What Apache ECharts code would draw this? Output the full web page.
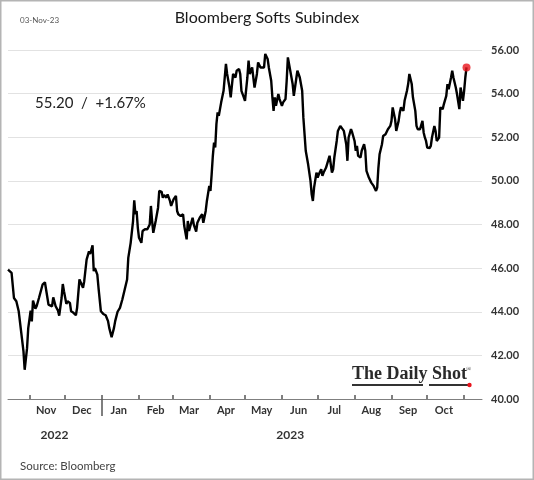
<!DOCTYPE html>
<html><head><meta charset="utf-8">
<script src="https://cdn.jsdelivr.net/npm/echarts@6/dist/echarts.min.js"></script>
<style>html,body{margin:0;padding:0;background:#fff}#c{width:534px;height:480px;background:#fff}</style>
</head><body><div id="c"></div>
<script>
const axisStart = '2022-10-14';
const axisEnd = '2023-11-16';
const monthNames = ['Jan','Feb','Mar','Apr','May','Jun','Jul','Aug','Sep','Oct','Nov','Dec'];
const yearLabelDates = {'2022-11-22':'2022','2023-06-08':'2023'};
const yearSeparator = '2023-01-01';
const yTicks = [40,42,44,46,48,50,52,54,56];
const titleText = 'Bloomberg Softs Subindex';
const dateText = '03-Nov-23';
const lastText = '55.20  /  +1.67%';
const sourceText = 'Source: Bloomberg';

const dates = [
'2022-10-14','2022-10-17','2022-10-19','2022-10-20','2022-10-21','2022-10-23','2022-10-25','2022-10-27','2022-10-28','2022-10-30','2022-10-31',
'2022-11-02','2022-11-03','2022-11-04','2022-11-06','2022-11-07','2022-11-09','2022-11-12','2022-11-14','2022-11-15','2022-11-17','2022-11-18','2022-11-20','2022-11-21','2022-11-23','2022-11-25','2022-11-26','2022-11-28','2022-11-29','2022-11-30',
'2022-12-02','2022-12-03','2022-12-05','2022-12-06','2022-12-08','2022-12-10','2022-12-11','2022-12-13','2022-12-14','2022-12-16','2022-12-17','2022-12-19','2022-12-21','2022-12-22','2022-12-24','2022-12-25','2022-12-26','2022-12-28','2022-12-29','2022-12-31',
'2023-01-02','2023-01-03','2023-01-04','2023-01-06','2023-01-07','2023-01-09','2023-01-11','2023-01-12','2023-01-14','2023-01-16','2023-01-17','2023-01-18','2023-01-20','2023-01-22','2023-01-23','2023-01-25','2023-01-26','2023-01-27','2023-01-28','2023-01-29','2023-01-30','2023-01-31',
'2023-02-01','2023-02-03','2023-02-04','2023-02-06','2023-02-08','2023-02-09','2023-02-10','2023-02-11','2023-02-12','2023-02-13','2023-02-15','2023-02-17','2023-02-18','2023-02-20','2023-02-21','2023-02-22','2023-02-24','2023-02-25','2023-02-27','2023-02-28',
'2023-03-02','2023-03-04','2023-03-05','2023-03-06','2023-03-08','2023-03-10','2023-03-11','2023-03-13','2023-03-14','2023-03-15','2023-03-16','2023-03-18','2023-03-19','2023-03-21','2023-03-22','2023-03-24','2023-03-26','2023-03-27','2023-03-29','2023-03-30',
'2023-04-01','2023-04-02','2023-04-03','2023-04-04','2023-04-05','2023-04-06','2023-04-07','2023-04-08','2023-04-09','2023-04-11','2023-04-12','2023-04-13','2023-04-15','2023-04-16','2023-04-18','2023-04-19','2023-04-21','2023-04-23','2023-04-24','2023-04-26','2023-04-27','2023-04-28','2023-04-30',
'2023-05-01','2023-05-03','2023-05-04','2023-05-05','2023-05-07','2023-05-08','2023-05-09','2023-05-11','2023-05-12','2023-05-14','2023-05-15','2023-05-17','2023-05-18','2023-05-20','2023-05-21','2023-05-23','2023-05-24','2023-05-25','2023-05-26','2023-05-27','2023-05-28','2023-05-29','2023-05-30',
'2023-06-01','2023-06-02','2023-06-04','2023-06-05','2023-06-06','2023-06-08','2023-06-10','2023-06-11','2023-06-13','2023-06-14','2023-06-15','2023-06-16','2023-06-18','2023-06-19','2023-06-21','2023-06-23','2023-06-25','2023-06-26','2023-06-27','2023-06-28','2023-06-30',
'2023-07-01','2023-07-02','2023-07-04','2023-07-05','2023-07-06','2023-07-08','2023-07-09','2023-07-11','2023-07-12','2023-07-13','2023-07-14','2023-07-15','2023-07-17','2023-07-18','2023-07-20','2023-07-21','2023-07-23','2023-07-25','2023-07-26','2023-07-27','2023-07-29','2023-07-30',
'2023-08-01','2023-08-02','2023-08-03','2023-08-04','2023-08-06','2023-08-07','2023-08-09','2023-08-10','2023-08-11','2023-08-13','2023-08-14','2023-08-15','2023-08-17','2023-08-19','2023-08-20','2023-08-21','2023-08-22','2023-08-24','2023-08-25','2023-08-27','2023-08-28','2023-08-29','2023-08-31',
'2023-09-01','2023-09-02','2023-09-04','2023-09-05','2023-09-07','2023-09-08','2023-09-09','2023-09-11','2023-09-12','2023-09-14','2023-09-15','2023-09-16','2023-09-18','2023-09-19','2023-09-21','2023-09-22','2023-09-23','2023-09-25','2023-09-26','2023-09-27','2023-09-28','2023-09-29','2023-09-30',
'2023-10-01','2023-10-03','2023-10-04','2023-10-05','2023-10-07','2023-10-08','2023-10-09','2023-10-11','2023-10-12','2023-10-14','2023-10-15','2023-10-17','2023-10-18','2023-10-19','2023-10-21','2023-10-22','2023-10-23','2023-10-25','2023-10-26','2023-10-27','2023-10-28','2023-10-29','2023-10-31',
'2023-11-01','2023-11-02','2023-11-03'
];
const values = [
45.93,45.78,44.63,44.66,44.48,44.02,43.10,42.18,41.34,42.33,43.25,
44.05,43.56,44.51,44.14,44.25,44.63,45.24,45.35,45.27,44.33,44.36,44.25,44.66,44.25,44.05,43.82,44.63,45.27,44.94,
44.36,44.48,44.40,44.02,43.95,43.84,44.17,45.48,45.53,45.10,45.40,46.39,46.77,46.65,47.05,45.86,46.00,45.70,45.10,44.02,
43.90,43.87,43.84,43.57,43.26,42.83,43.26,43.57,44.00,44.18,44.10,44.56,45.02,45.48,46.47,47.16,47.24,48.16,49.11,48.47,48.62,47.85,
47.39,47.16,47.70,47.78,47.78,47.85,48.00,48.85,48.16,47.62,48.16,48.77,49.54,49.50,49.23,49.35,49.23,49.38,49.08,48.85,
49.15,49.31,48.62,48.47,48.39,48.47,47.93,47.32,48.16,47.70,47.78,48.31,48.00,47.67,48.08,48.31,48.47,48.08,48.62,49.08,
49.77,49.54,50.30,51.15,51.76,51.53,52.60,53.14,52.98,53.60,53.52,54.13,55.36,54.90,54.28,53.83,54.90,54.74,55.05,55.13,54.90,54.13,53.83,
53.67,54.74,55.51,54.90,55.20,54.74,54.28,54.90,55.43,55.20,55.28,55.20,55.82,55.59,55.20,54.59,53.83,53.21,53.83,53.44,53.37,53.98,53.75,
53.44,53.60,53.75,54.59,55.66,55.05,54.44,53.90,54.67,55.05,55.13,54.74,54.13,52.91,51.38,50.76,50.00,49.38,49.08,49.69,50.38,
50.15,50.30,50.53,50.23,50.38,50.60,50.68,51.15,51.22,50.38,50.53,51.07,51.83,52.29,52.52,52.48,52.29,51.68,50.92,51.99,52.37,52.22,
51.83,51.38,51.60,51.15,51.07,51.38,51.68,51.38,50.46,50.15,50.23,49.92,49.77,49.54,49.69,50.60,51.22,51.68,52.06,52.14,52.06,52.37,52.52,
52.75,53.37,52.83,52.29,52.75,53.14,53.37,53.21,53.67,54.13,54.44,54.90,54.44,53.83,53.21,52.52,52.37,52.37,52.29,52.75,52.22,51.99,51.83,
51.53,51.50,51.60,51.99,52.52,52.29,51.83,51.99,53.37,53.29,53.52,53.90,54.44,54.20,54.74,55.05,54.74,54.28,53.98,54.05,53.29,54.28,53.67,
54.13,54.74,55.20
];

// daily index scaffold for the x axis (day number since axisStart)
const days = [];
for (let t = Date.parse(axisStart + 'T00:00:00Z'); t <= Date.parse(axisEnd + 'T00:00:00Z'); t += 86400000) {
  days.push(new Date(t).toISOString().slice(0, 10));
}
const dayIndex = {};
days.forEach((d, i) => dayIndex[d] = i);
const lineData = dates.map((d, i) => [dayIndex[d], values[i]]);
const lastPoint = [[dayIndex[dates[dates.length - 1]], values[values.length - 1]]];
const monthTicks = days.filter(d => d.slice(8) === '01').map(d => dayIndex[d]);
const monthLabelPos = days.filter(d => d.slice(8) === '15' && d > '2022-10-31' && d < '2023-11-01').map(d => dayIndex[d]);
const yearLabelPos = Object.keys(yearLabelDates).map(d => dayIndex[d]);

const FONT = 'Lato';
const chart = echarts.init(document.getElementById('c'), null, {renderer: 'canvas'});
chart.setOption({
  animation: false,
  title: {
    text: titleText, left: 'center', top: 5,
    textStyle: {fontFamily: FONT, fontSize: 16, fontWeight: 'normal', color: '#1a1a1a'}
  },
  grid: {left: 8, right: 52, top: 50, bottom: 81, containLabel: false},
  xAxis: [{
    type: 'value', min: 0, max: days.length - 1,
    axisLine: {show: true, onZero: false, lineStyle: {color: '#7f7f7f', width: 1}},
    axisTick: {show: true, inside: true, length: 4, customValues: monthTicks, lineStyle: {color: '#555', width: 1.5}},
    axisLabel: {
      customValues: monthLabelPos,
      formatter: v => monthNames[+days[Math.round(v)].slice(5, 7) - 1],
      margin: 6, fontFamily: FONT, fontSize: 11, fontWeight: 'bold', color: '#333'
    },
    splitLine: {show: false}
  }, {
    type: 'value', min: 0, max: days.length - 1, position: 'bottom',
    axisLine: {show: false, onZero: false},
    axisTick: {show: true, length: 17, customValues: [dayIndex[yearSeparator]], lineStyle: {color: '#555', width: 1.5}},
    axisLabel: {
      customValues: yearLabelPos,
      formatter: v => yearLabelDates[days[Math.round(v)]] || '',
      margin: 30, fontFamily: FONT, fontSize: 12, fontWeight: 'bold', color: '#333'
    },
    splitLine: {show: false}
  }],
  yAxis: {
    type: 'value', position: 'right', min: yTicks[0], max: yTicks[yTicks.length - 1], interval: 2,
    axisLine: {show: false}, axisTick: {show: false},
    axisLabel: {formatter: v => v.toFixed(2), margin: 9, fontFamily: FONT, fontSize: 11, fontWeight: 'bold', color: '#333'},
    splitLine: {lineStyle: {color: '#e2e2e2', width: 1}}
  },
  series: [{
    type: 'line', xAxisIndex: 0, data: lineData, showSymbol: false,
    lineStyle: {color: '#000', width: 2.4}, z: 3
  }, {
    type: 'scatter', xAxisIndex: 0, data: lastPoint, symbol: 'circle', symbolSize: 8,
    itemStyle: {color: '#e8141c'}, z: 4
  }],
  graphic: [
    {type: 'rect', shape: {x: 0.75, y: 0.75, width: 532.5, height: 478.5}, style: {fill: 'none', stroke: '#b4b4b4', lineWidth: 1.5}},
    {type: 'text', x: 20, y: 20, style: {text: dateText, font: '8px ' + FONT, fill: '#555', verticalAlign: 'middle'}},
    {type: 'rect', shape: {x: 14, y: 82, width: 143, height: 40}, style: {fill: '#fff'}},
    {type: 'text', x: 35, y: 103, style: {text: lastText, font: '15px ' + FONT, fill: '#222', verticalAlign: 'middle'}},
    {type: 'rect', shape: {x: 352, y: 384, width: 71, height: 2}, style: {fill: '#333'}},
    {type: 'rect', shape: {x: 429, y: 384, width: 39, height: 2}, style: {fill: '#333'}},
    {type: 'text', x: 352, y: 374, style: {text: 'The Daily Shot', font: 'bold 18px "Liberation Serif"', fill: '#2a2a2a', verticalAlign: 'middle'}},
    {type: 'text', x: 466, y: 369, style: {text: '®', font: '7px "Liberation Serif"', fill: '#333', verticalAlign: 'middle'}},
    {type: 'circle', shape: {cx: 469.5, cy: 385, r: 2.2}, style: {fill: '#e8141c'}},
    {type: 'text', x: 20, y: 466, style: {text: sourceText, font: '11.5px ' + FONT, fill: '#444', verticalAlign: 'middle'}}
  ]
});
</script></body></html>
